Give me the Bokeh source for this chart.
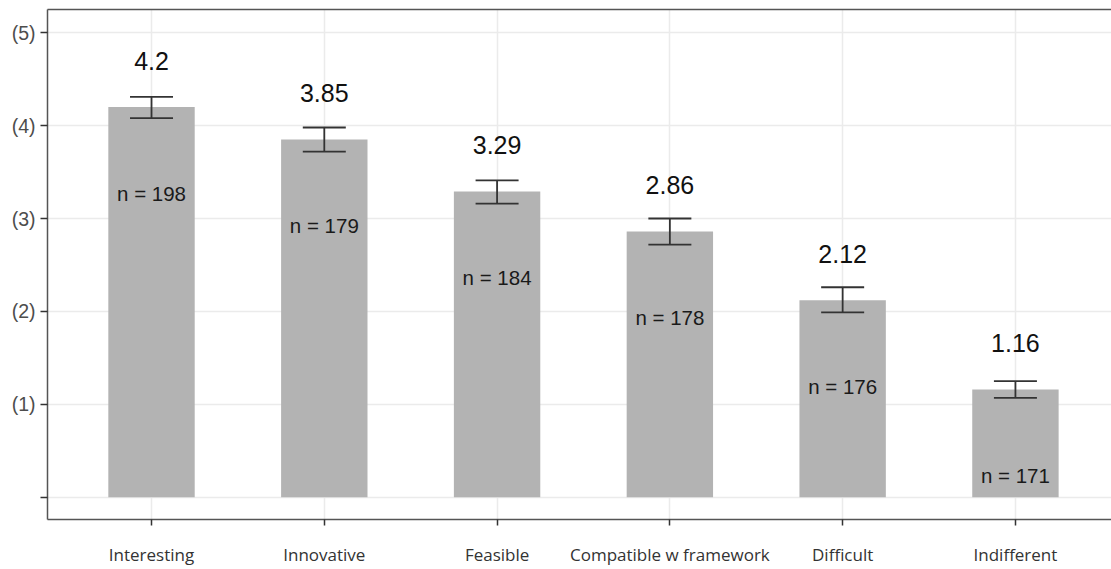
from bokeh.plotting import figure
from bokeh.models import Range1d, FixedTicker, LinearAxis, Whisker, TeeHead, ColumnDataSource
from bokeh.core.properties import value
from bokeh.embed import file_html
from bokeh.resources import INLINE

categories = ["Interesting", "Innovative", "Feasible", "Compatible w framework", "Difficult", "Indifferent"]
means = [4.20, 3.85, 3.29, 2.86, 2.12, 1.16]
lower = [4.08, 3.72, 3.16, 2.72, 1.99, 1.07]
upper = [4.31, 3.98, 3.41, 3.00, 2.26, 1.25]
counts = [198, 179, 184, 178, 176, 171]
y_ticks = [0, 1, 2, 3, 4, 5]
y_tick_labels = ["", "(1)", "(2)", "(3)", "(4)", "(5)"]

xs = list(range(len(categories)))
src = ColumnDataSource(dict(
    x=xs,
    mean=means,
    lower=lower,
    upper=upper,
    mean_label=[("%g" % m) for m in means],
    mean_label_y=[m + 0.5 for m in means],
    n_label=["n = %d" % n for n in counts],
    n_label_y=[m - 0.93 for m in means],
))

p = figure(width=1111, height=569, output_backend="svg", toolbar_location=None,
           x_range=Range1d(-0.602, 5.556), y_range=Range1d(-0.24, 5.25),
           min_border_left=47, min_border_right=0, min_border_top=9, min_border_bottom=50)
p.outline_line_color = None
p.background_fill_color = "white"
p.border_fill_color = "white"

grid_color = "#ebebeb"
p.xgrid.ticker = FixedTicker(ticks=xs)
p.ygrid.ticker = FixedTicker(ticks=y_ticks)
p.xgrid.grid_line_color = grid_color
p.ygrid.grid_line_color = grid_color
p.xgrid.grid_line_width = 1.5
p.ygrid.grid_line_width = 1.5

border_col = "#555555"
# y axis
p.yaxis.ticker = FixedTicker(ticks=y_ticks)
p.yaxis.major_label_overrides = {t: l for t, l in zip(y_ticks, y_tick_labels)}
p.yaxis.major_label_text_font = "Liberation Sans"
p.yaxis.major_label_text_font_size = "19.5px"
p.yaxis.major_label_text_color = "#4d4d4d"
p.yaxis.major_tick_out = 7
p.yaxis.major_tick_in = 0
p.yaxis.minor_tick_out = 0
p.yaxis.minor_tick_in = 0
p.yaxis.major_label_standoff = 5
p.yaxis.axis_line_color = border_col
p.yaxis.axis_line_width = 1.5
p.yaxis.major_tick_line_color = "#333333"
p.yaxis.major_tick_line_width = 1.5

# x axis
p.xaxis.ticker = FixedTicker(ticks=xs)
p.xaxis.major_label_overrides = {x: c for x, c in zip(xs, categories)}
p.xaxis.major_label_text_font = "Open Sans"
p.xaxis.major_label_text_font_size = "17px"
p.xaxis.major_label_text_color = "#333333"
p.xaxis.major_tick_out = 6
p.xaxis.major_tick_in = 0
p.xaxis.minor_tick_out = 0
p.xaxis.minor_tick_in = 0
p.xaxis.major_label_standoff = 17
p.xaxis.axis_line_color = border_col
p.xaxis.axis_line_width = 1.5
p.xaxis.major_tick_line_color = "#333333"
p.xaxis.major_tick_line_width = 1.5

top_axis = LinearAxis(ticker=FixedTicker(ticks=[]), major_tick_out=0, major_tick_in=0,
                      minor_tick_out=0, minor_tick_in=0, major_label_text_font_size="0px",
                      major_label_standoff=0, axis_line_color=border_col, axis_line_width=1.5)
p.add_layout(top_axis, "above")

p.vbar(x="x", top="mean", bottom=0, width=0.5, source=src,
       fill_color="#b3b3b3", line_color=None)

whisk = Whisker(base="x", lower="lower", upper="upper", source=src,
                line_color="#333333", line_width=1.8, level="overlay",
                lower_head=TeeHead(size=43, line_color="#333333", line_width=1.8),
                upper_head=TeeHead(size=43, line_color="#333333", line_width=1.8))
p.add_layout(whisk)

p.text(x="x", y="mean_label_y", text="mean_label", source=src,
       text_align="center", text_baseline="middle",
       text_font=value("Liberation Sans"), text_font_size="25px", text_color="#111111")
p.text(x="x", y="n_label_y", text="n_label", source=src,
       text_align="center", text_baseline="middle",
       text_font=value("Liberation Sans"), text_font_size="20.5px", text_color="#1a1a1a")

open("out.html", "w").write(file_html(p, INLINE))
